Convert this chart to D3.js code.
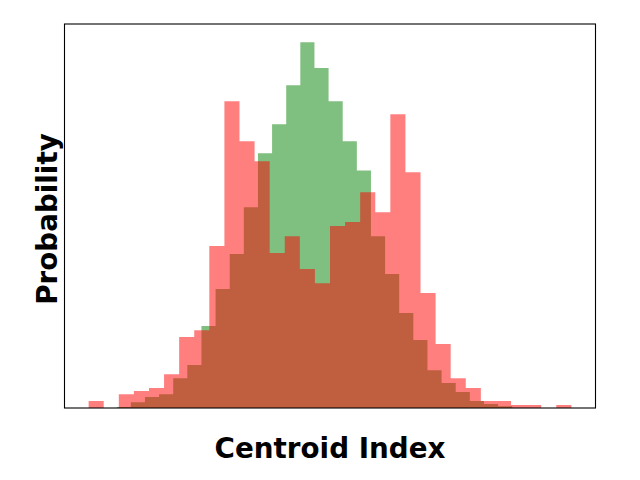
<!DOCTYPE html>
<html>
<head>
<meta charset="utf-8">
<script src="https://cdn.jsdelivr.net/npm/d3@7"></script>
<style>
  html, body { margin: 0; padding: 0; background: #fff; }
  svg { display: block; }
</style>
</head>
<body>
<svg id="chart" width="640" height="480"></svg>
<script>
// ---- Data (bin values in % probability) ----
const greenStart = 1.86;       // first bin left edge (centroid index units)
const greenBinWidth = 0.9364;
const greenValues = [0.03, 0.16, 0.30, 0.38, 0.82, 1.18, 2.25, 3.27, 4.23, 5.52,
                     7.00, 7.80, 8.87, 10.05, 9.34, 8.43, 7.33, 6.53, 4.72, 3.68,
                     2.61, 1.87, 1.04, 0.69, 0.44, 0.19, 0.11, 0.05];

const redStart = 0;
const redBinWidth = 1;
const redValues = [0.19, 0, 0.38, 0.47, 0.55, 0.93, 1.95, 2.14, 4.45, 8.43,
                   7.33, 6.78, 4.26, 4.72, 3.82, 3.43, 5.00, 5.11, 5.93, 5.38,
                   8.07, 6.48, 3.16, 1.76, 0.82, 0.55, 0.19, 0.19, 0.08, 0.08,
                   0, 0.08];

const xLabel = "Centroid Index";
const yLabel = "Probability";

// ---- Layout ----
const svg = d3.select("#chart");
const plot = { left: 64.5, right: 595.5, top: 24, bottom: 408 };

const toBins = (start, w, vals) => vals.map((v, i) => ({ x0: start + i * w, x1: start + (i + 1) * w, v }));
const greenBins = toBins(greenStart, greenBinWidth, greenValues);
const redBins = toBins(redStart, redBinWidth, redValues);

const allBins = greenBins.concat(redBins);
const xmin = d3.min(allBins, d => d.x0);
const xmax = d3.max(allBins, d => d.x1);
const pad = (xmax - xmin) * 0.05;
const x = d3.scaleLinear().domain([xmin - pad, xmax + pad]).range([plot.left, plot.right]);
const ymax = d3.max(allBins, d => d.v) * 1.05;
const y = d3.scaleLinear().domain([0, ymax]).range([plot.bottom, plot.top]);

// Each histogram drawn as one seamless outline (bars joined, like matplotlib's filled bars)
function drawHist(bins, color) {
  const p = d3.path();
  p.moveTo(x(bins[0].x0), y(0));
  bins.forEach(d => {
    p.lineTo(x(d.x0), y(d.v));
    p.lineTo(x(d.x1), y(d.v));
  });
  p.lineTo(x(bins[bins.length - 1].x1), y(0));
  p.closePath();
  svg.append("path")
    .attr("d", p.toString())
    .attr("fill", color)
    .attr("fill-opacity", 0.5)
    .attr("stroke", "none");
}
drawHist(greenBins, "#008000");
drawHist(redBins, "#ff0000");

// frame
svg.append("rect")
  .attr("x", plot.left).attr("y", plot.top)
  .attr("width", plot.right - plot.left).attr("height", plot.bottom - plot.top)
  .attr("fill", "none").attr("stroke", "#000").attr("stroke-width", 1.1);

// labels
svg.append("text")
  .attr("x", (plot.left + plot.right) / 2).attr("y", 457.5)
  .attr("text-anchor", "middle")
  .attr("font-family", "DejaVu Sans")
  .attr("font-weight", "bold")
  .attr("font-size", "27.78px")
  .text(xLabel);

svg.append("text")
  .attr("transform", "translate(56.5,219) rotate(-90)")
  .attr("text-anchor", "middle")
  .attr("font-family", "DejaVu Sans")
  .attr("font-weight", "bold")
  .attr("font-size", "27.78px")
  .text(yLabel);
</script>
</body>
</html>
